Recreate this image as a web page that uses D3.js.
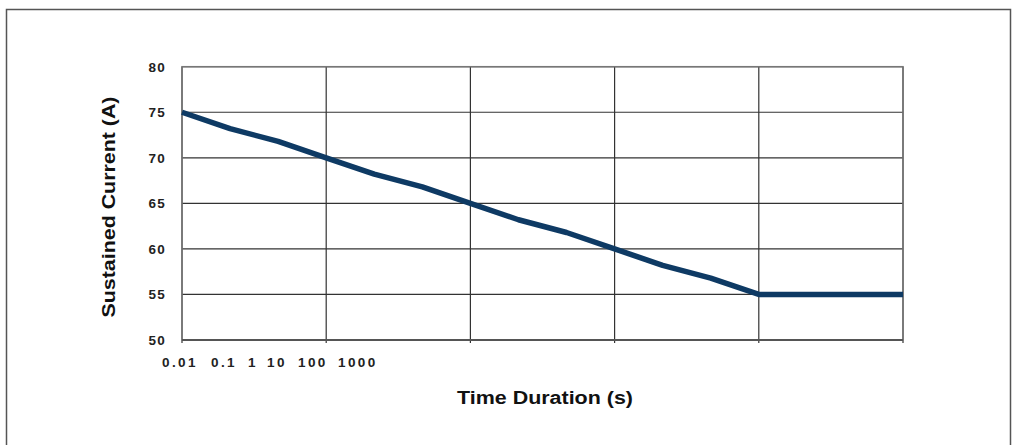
<!DOCTYPE html>
<html><head><meta charset="utf-8">
<script src="https://cdn.jsdelivr.net/npm/d3@7"></script>
<style>body{margin:0;background:#fff;}svg{display:block;font-family:"Liberation Sans",Arial,sans-serif;}</style>
</head><body><svg id="c" width="1012" height="445"></svg>
<script>
const pointIndex = [0,1,2,3,4,5,6,7,8,9,10,11,12,13,14,15];
const currentValues = [75,73.2,71.8,70,68.2,66.8,65,63.2,61.8,60,58.2,56.8,55,55,55,55];
const yTicks = [50,55,60,65,70,75,80];
const xGridIndex = [0,3,6,9,12,15];
const xTickLabels = ["0.01","0.1","1","10","100","1000"];
const xLabelStarts = [162,211,248,267,298,338];

const svg = d3.select("#c");
svg.append("rect").attr("x",6.5).attr("y",9.5).attr("width",1004).attr("height",460)
  .attr("fill","#fff").attr("stroke","#555").attr("stroke-width",1.5);

const x = d3.scaleLinear().domain([0,15]).range([182,903]);
const y = d3.scaleLinear().domain([50,80]).range([340,66.7]);

const g = svg.append("g");
g.selectAll("line.h").data(yTicks).join("line").attr("class","h")
  .attr("x1",x(0)).attr("x2",x(15)).attr("y1",d=>y(d)).attr("y2",d=>y(d))
  .attr("stroke","#333").attr("stroke-width",1.2);
g.selectAll("line.v").data(xGridIndex).join("line").attr("class","v")
  .attr("x1",d=>x(d)).attr("x2",d=>x(d)).attr("y1",y(80)).attr("y2",y(50)+3)
  .attr("stroke","#333").attr("stroke-width",1.2);
g.append("rect").attr("x",x(0)).attr("y",y(80)).attr("width",x(15)-x(0)).attr("height",y(50)-y(80))
  .attr("fill","none").attr("stroke","#777").attr("stroke-width",1.5);
g.append("line").attr("x1",x(0)).attr("x2",x(15)).attr("y1",y(50)).attr("y2",y(50)).attr("stroke","#555").attr("stroke-width",2);

g.selectAll("text.yt").data(yTicks).join("text").attr("class","yt")
  .attr("x",166).attr("y",d=>y(d)).attr("dy","0.36em").attr("text-anchor","end")
  .attr("font-size",13.5).attr("font-weight","bold").attr("letter-spacing",1.3).attr("fill","#222")
  .text(d=>d);

g.selectAll("text.xt").data(xTickLabels).join("text").attr("class","xt")
  .attr("x",(d,i)=>xLabelStarts[i]).attr("y",367)
  .attr("font-size",13.5).attr("font-weight","bold").attr("letter-spacing",2.4).attr("fill","#222")
  .text(d=>d);

const line = d3.line().x((d,i)=>x(pointIndex[i])).y(d=>y(d));
g.append("path").datum(currentValues).attr("d",line).attr("fill","none")
  .attr("stroke","#0e3a64").attr("stroke-width",5.5).attr("stroke-linejoin","round");

svg.append("text").attr("x",545).attr("y",404).attr("text-anchor","middle")
  .attr("font-size",18).attr("font-weight","bold").attr("fill","#111")
  .attr("textLength",176).attr("lengthAdjust","spacingAndGlyphs")
  .text("Time Duration (s)");
svg.append("text").attr("transform","translate(115,207) rotate(-90)").attr("text-anchor","middle")
  .attr("font-size",18).attr("font-weight","bold").attr("fill","#111")
  .attr("textLength",221).attr("lengthAdjust","spacingAndGlyphs")
  .text("Sustained Current (A)");
</script></body></html>
